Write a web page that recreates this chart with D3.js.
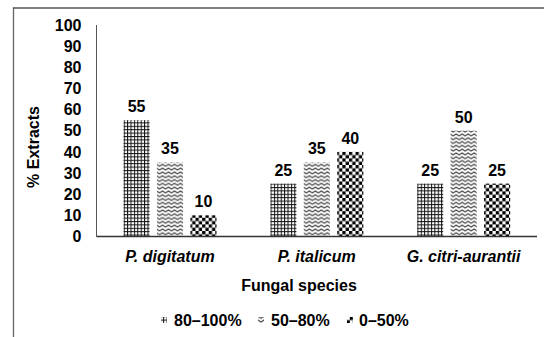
<!DOCTYPE html>
<html><head><meta charset="utf-8">
<script src="https://cdn.jsdelivr.net/npm/d3@7/dist/d3.min.js"></script>
<style>
html,body{margin:0;padding:0;background:#fff;}
text{font-family:"Liberation Sans",Arial,sans-serif;font-weight:bold;fill:#000;}
</style></head>
<body>
<svg id="chart" width="544" height="337"></svg>
<script>
const categories = ["P. digitatum", "P. italicum", "G. citri-aurantii"];
const seriesNames = ["80–100%", "50–80%", "0–50%"];
const values80to100 = [55, 25, 25];
const values50to80 = [35, 35, 50];
const values0to50 = [10, 40, 25];
const yTicks = [0,10,20,30,40,50,60,70,80,90,100];

const seriesValues = [values80to100, values50to80, values0to50];
const patterns = ["pGrid", "pZig", "pCheck"];

const svg = d3.select("#chart");
const defs = svg.append("defs");

// grid pattern
const g1 = defs.append("pattern").attr("id","pGrid").attr("patternUnits","userSpaceOnUse")
  .attr("width",3.4).attr("height",3.4);
g1.append("rect").attr("width",3.4).attr("height",3.4).attr("fill","#fff");
g1.append("rect").attr("x",0).attr("y",0).attr("width",3.4).attr("height",1).attr("fill","#111");
g1.append("rect").attr("x",0).attr("y",0).attr("width",1).attr("height",3.4).attr("fill","#111");

// zigzag pattern
const g2 = defs.append("pattern").attr("id","pZig").attr("patternUnits","userSpaceOnUse")
  .attr("width",6).attr("height",3.8);
g2.append("rect").attr("width",6).attr("height",3.8).attr("fill","#fff");
g2.append("path").attr("d","M-1.5,2.7 L0,1 L3,2.9 L6,1 L7.5,2.7").attr("fill","none")
  .attr("stroke","#444").attr("stroke-width",1.1);

// checker pattern
const g3 = defs.append("pattern").attr("id","pCheck").attr("patternUnits","userSpaceOnUse")
  .attr("width",6.6).attr("height",6.6);
g3.append("rect").attr("width",6.6).attr("height",6.6).attr("fill","#fff");
g3.append("rect").attr("x",0).attr("y",0).attr("width",3.3).attr("height",3.3).attr("fill","#000");
g3.append("rect").attr("x",3.3).attr("y",3.3).attr("width",3.3).attr("height",3.3).attr("fill","#000");

// frame
svg.append("line").attr("x1",13.5).attr("x2",13.5).attr("y1",7.5).attr("y2",337)
  .attr("stroke","#666").attr("stroke-width",1.3);
svg.append("line").attr("x1",13).attr("x2",544).attr("y1",8).attr("y2",8)
  .attr("stroke","#555").attr("stroke-width",1.5);

const plotLeft = 96.5, plotRight = 537, plotTop = 25, plotBottom = 236.5;

const x0 = d3.scaleBand().domain(categories).range([plotLeft, plotRight]).padding(0);
const x1 = d3.scaleBand().domain(seriesNames).range([27, 120]).paddingInner(0.22).paddingOuter(0);
const y = d3.scaleLinear().domain([0,100]).range([plotBottom, plotTop]);

// y axis
const yAxis = d3.axisLeft(y).tickValues(yTicks).tickSize(0).tickPadding(0);
const ya = svg.append("g").attr("transform",`translate(${plotLeft},0)`).call(yAxis);
ya.select(".domain").remove();
ya.selectAll("text").attr("x",-15).attr("font-size",16)
  .style("font-family","'Liberation Sans',Arial,sans-serif").style("font-weight","bold").attr("fill","#000");

svg.append("line").attr("x1",plotLeft).attr("x2",plotLeft).attr("y1",plotTop).attr("y2",plotBottom)
  .attr("stroke","#555").attr("stroke-width",1);

// bars
const groups = svg.append("g").selectAll("g").data(categories).join("g")
  .attr("transform", d => `translate(${x0(d)},0)`);
seriesNames.forEach((s, si) => {
  groups.append("rect")
    .attr("x", x1(s))
    .attr("width", x1.bandwidth())
    .attr("y", (d,i) => y(seriesValues[si][i]))
    .attr("height", (d,i) => plotBottom - y(seriesValues[si][i]))
    .attr("fill", `url(#${patterns[si]})`);
  groups.append("text")
    .attr("x", x1(s) + x1.bandwidth()/2)
    .attr("y", (d,i) => y(seriesValues[si][i]) - 8)
    .attr("text-anchor","middle").attr("font-size",16)
    .text((d,i) => seriesValues[si][i]);
});

// x axis
const xAxis = d3.axisBottom(x0).tickSize(0).tickPadding(0);
const xa = svg.append("g").attr("transform",`translate(0,${plotBottom})`).call(xAxis);
xa.select(".domain").remove();
xa.selectAll("text").attr("y",25).attr("dy",0).attr("font-size",16)
  .style("font-family","'Liberation Sans',Arial,sans-serif").style("font-weight","bold")
  .style("font-style","italic").attr("fill","#000");
svg.append("line").attr("x1",plotLeft).attr("x2",plotRight).attr("y1",plotBottom).attr("y2",plotBottom)
  .attr("stroke","#333").attr("stroke-width",1.5);

// axis titles
svg.append("text").attr("transform","translate(39,147) rotate(-90)")
  .attr("text-anchor","middle").attr("font-size",16).text("% Extracts");
svg.append("text").attr("x",299).attr("y",291).attr("text-anchor","middle")
  .attr("font-size",16).text("Fungal species");

// legend
const legendIconX = [161, 258, 347];
const legendTextX = [174, 271, 359];
const leg = svg.append("g");
seriesNames.forEach((s, i) => {
  leg.append("rect").attr("x",legendIconX[i]).attr("y",317).attr("width",6).attr("height",6)
    .attr("fill",`url(#${patterns[i]})`);
  leg.append("text").attr("x",legendTextX[i]).attr("y",326).attr("font-size",16).text(s);
});
</script>
</body></html>
